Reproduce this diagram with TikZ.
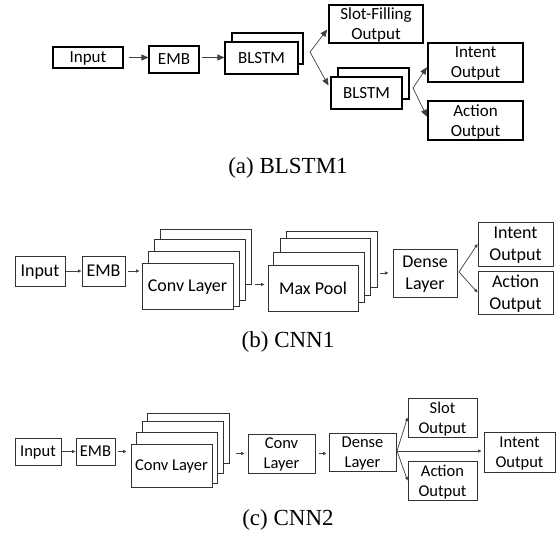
\documentclass[tikz,border=0pt]{standalone}
\usepackage{fontspec}
\setmainfont{Liberation Serif}
\newfontfamily\calfont{Carlito}
\usetikzlibrary{arrows.meta}

\tikzset{
  sz/.style 2 args={minimum width=#1pt, minimum height=#2pt},
  blk/.style={draw=black!80, fill=white, inner sep=0pt, align=center, text depth=0pt, line width=0.9pt},
  blka/.style={blk, draw=black, line width=1.2pt, font=\calfont\fontsize{17}{20}\selectfont},
  blkb/.style={blk, font=\calfont\fontsize{18}{22}\selectfont},
  blkc/.style={blk, font=\calfont\fontsize{16.5}{20}\selectfont},
  bigarr/.style={-{Triangle[length=7pt,width=6pt]}, draw=black!75, line width=0.7pt},
  smallarr/.style={-{Triangle[length=3.5pt,width=3pt]}, draw=black!75, line width=0.7pt},
  capt/.style={font=\fontsize{23}{26}\selectfont}
}

\begin{document}
\begin{tikzpicture}[x=1pt,y=-1pt]
        \useasboundingbox (0,0) rectangle (556,537);

        % (a) BLSTM1
        \node[blka, sz={70}{21}] (inputA) at (88,57.5) {Input};
        \node[blka, sz={50}{27}] (embA) at (174,59.5) {EMB};
        \node[blka, sz={71}{31}] (blstmAback) at (267.5,48.5) {};
        \node[blka, sz={73}{32}] (blstmA) at (261.5,58) {BLSTM};
        \node[blka, sz={94}{38}] (slotA) at (376,24) {Slot-Filling\\Output};
        \node[blka, sz={71}{31}] (blstmBback) at (373.5,83.5) {};
        \node[blka, sz={71}{32}] (blstmB) at (366.5,93) {BLSTM};
        \node[blka, sz={95}{39}] (intentA) at (475.5,62.5) {Intent\\Output};
        \node[blka, sz={95}{39}] (actionA) at (475.5,120.5) {Action\\Output};
        \coordinate (forkA) at (310,52);
        \coordinate (forkAA) at (413,88);
        \draw[bigarr, shorten <=5pt] (inputA.east) -- (inputA.east -| embA.west);
        \draw[bigarr, shorten <=2pt] (inputA.east -| embA.east) -- (inputA.east -| blstmA.west);
        \draw[bigarr, shorten >=2pt] (forkA) -- ([yshift=-4pt]slotA.west);
        \draw[bigarr, shorten >=4pt] (forkA) -- ([yshift=4pt]blstmB.west);
        \draw[bigarr, shorten >=1pt] (forkAA) -- ([yshift=-4pt]intentA.west);
        \draw[bigarr, shorten >=1pt] (forkAA) -- ([yshift=3pt]actionA.west);
        \node[capt] (capA) at (288,168) {(a) BLSTM1};

        % (b) CNN1
        \node[blkb, sz={50}{30}] (inputB) at (40,271) {Input};
        \node[blkb, sz={43}{30}] (embB) at (103.5,271) {EMB};
        \node[blkb, sz={91}{55}] (convBd) at (205.5,256.5) {};
        \node[blkb, sz={91}{61}] (convBc) at (199.5,269.5) {};
        \node[blkb, sz={91}{55}] (convBb) at (193.5,278.5) {};
        \node[blkb, sz={91}{46}] (convB) at (187.5,286) {Conv Layer};
        \node[blkb, sz={91}{56}] (poolBd) at (331.5,259) {};
        \node[blkb, sz={90}{57}] (poolBc) at (325,266.5) {};
        \node[blkb, sz={91}{50}] (poolBb) at (318.5,277) {};
        \node[blkb, sz={90}{46}] (poolB) at (313,288) {Max Pool};
        \node[blkb, sz={64}{48}] (denseB) at (425,273) {Dense\\Layer};
        \node[blkb, sz={75}{44}] (intentB) at (515.5,244) {Intent\\Output};
        \node[blkb, sz={75}{43}] (actionB) at (515.5,292.5) {Action\\Output};
        \coordinate (forkB) at (459,272);
        \draw[smallarr, shorten <=1pt] (inputB.east) -- (embB.west);
        \draw[smallarr, shorten <=3pt, shorten >=2pt] (embB.east) -- (embB.east -| convB.west);
        \draw[smallarr, shorten <=4pt, shorten >=3pt] (convBd.south east) -- (convBd.south east -| poolB.west);
        \draw[smallarr, shorten <=3pt, shorten >=4pt] (poolBd.east |- denseB.west) -- (denseB.west);
        \draw[smallarr] (forkB) -- (intentB.west);
        \draw[smallarr] (forkB) -- (actionB.west);
        \node[capt] (capB) at (288,342) {(b) CNN1};

        % (c) CNN2
        \node[blkc, sz={46}{27}] (inputC) at (38,451.5) {Input};
        \node[blkc, sz={39}{27}] (embC) at (95.5,451.5) {EMB};
        \node[blkc, sz={82}{50}] (convCd) at (188,438) {};
        \node[blkc, sz={81}{52}] (convCc) at (182.5,447) {};
        \node[blkc, sz={81}{51}] (convCb) at (176.5,457.5) {};
        \node[blkc, sz={81}{43}] (convC) at (171.5,465.5) {Conv Layer};
        \node[blkc, sz={67}{39}] (clC) at (281.5,453.5) {Conv\\Layer};
        \node[blkc, sz={67}{38}] (denseC) at (362.5,452) {Dense\\Layer};
        \node[blkc, sz={69}{39}] (slotC) at (442.5,417.5) {Slot\\Output};
        \node[blkc, sz={69}{39}] (actionC) at (442.5,480.5) {Action\\Output};
        \node[blkc, sz={71}{40}] (intentC) at (519.5,452) {Intent\\Output};
        \coordinate (forkC) at (397,451);
        \draw[smallarr] (inputC.east) -- (inputC.east -| embC.west);
        \draw[smallarr, shorten <=3pt, shorten >=4pt] (embC.east) -- (embC.east -| convC.west);
        \draw[smallarr, shorten <=7pt, shorten >=3pt] (convCd.east |- clC.west) -- (clC.west);
        \draw[smallarr, shorten <=4pt, shorten >=2pt] (clC.east) -- (clC.east -| denseC.west);
        \draw[smallarr] (forkC) -- (slotC.west);
        \draw[smallarr, shorten >=2pt] (forkC) -- (forkC -| intentC.west);
        \draw[smallarr] (forkC) -- (actionC.west);
        \node[capt] (capC) at (288,520) {(c) CNN2};
\end{tikzpicture}
\end{document}
